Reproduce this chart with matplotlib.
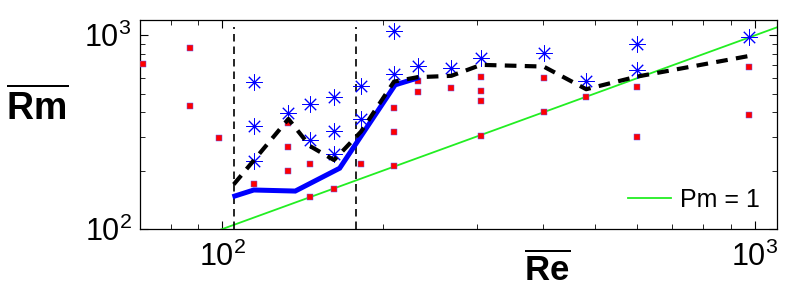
import matplotlib
matplotlib.use("Agg")
import matplotlib.pyplot as plt
import numpy as np

plt.rcParams["font.family"] = ["Liberation Sans", "DejaVu Sans"]
plt.rcParams["mathtext.fontset"] = "custom"
plt.rcParams["mathtext.rm"] = "Liberation Sans"
plt.rcParams["mathtext.bf"] = "Liberation Sans:bold"

# red squares (Re, Rm)
red_re = [70.8, 87, 87, 98.7, 114.5, 133, 133, 133, 146, 146, 162, 182,
          210, 210, 210, 232.5, 232.5, 269, 306, 306, 306, 306, 401, 401,
          482, 600, 600, 976, 976]
red_rm = [709, 865, 433, 295, 171, 264, 199, 354, 217, 146, 161, 217,
          212, 315, 421, 582, 511, 537, 612, 519, 457, 302, 601, 401,
          481, 540, 300, 685, 390]

# blue asterisks
star_re = [114.5, 114.5, 114.5, 133, 146, 146, 162, 162, 162, 182, 182,
           210, 210, 232.5, 269, 306, 401, 482, 600, 600, 976]
star_rm = [573, 342, 225, 396, 441, 288, 483, 321, 243, 548, 369,
           1055, 632, 698, 677, 767, 809, 582, 901, 663, 986]

# solid blue curve
blue_re = [105.5, 114.5, 137, 166, 211, 232]
blue_rm = [148, 159, 157, 206, 555, 601]

# dashed black curve
dash_re = [105, 133, 146, 162, 182, 210, 232.5, 269, 306, 401, 482, 600, 976]
dash_rm = [170, 370, 268, 227, 318, 577, 608, 618, 704, 690, 527, 612, 783]

# Pm = 1 line and the two vertical markers
pm_re = [70, 1100]
vlines_re = [105, 178]

fig = plt.figure(figsize=(7.89, 2.99), dpi=100)
ax = fig.add_axes([0.1774, 0.2341, 0.8074, 0.699])

ax.plot(pm_re, pm_re, color="#22ee22", lw=1.3, label="Pm = 1", zorder=2)
for xv in vlines_re:
    ax.plot([xv, xv], [100, 1107], color="black", lw=1.2,
            dashes=(4.5, 3), zorder=2)
ax.plot(red_re, red_rm, linestyle="none", marker="s", ms=4.0, mfc="red",
        mec="#6060ff", mew=0.35, zorder=3)
ax.plot(star_re, star_rm, linestyle="none", marker=(8, 2, 0), ms=11.5,
        color="blue", mew=0.7, zorder=4)
ax.plot(blue_re, blue_rm, color="blue", lw=3.6, zorder=5, solid_joinstyle="miter")
ax.plot(dash_re, dash_rm, color="black", lw=3, dashes=(2.8, 2), zorder=6)

ax.set_xscale("log")
ax.set_yscale("log")
ax.set_xlim(70, 1100)
ax.set_ylim(100, 1200)

ax.tick_params(which="both", direction="in", top=True, right=True,
               labelsize=22, pad=6)
ax.tick_params(axis="x", which="both", pad=9)
ax.tick_params(which="major", length=6, width=0.8)
ax.tick_params(which="minor", length=3.5, width=0.6)
for s in ax.spines.values():
    s.set_linewidth(0.9)

leg = ax.legend(loc="lower right", frameon=False, fontsize=18,
                handlelength=1.7, handletextpad=0.35, borderaxespad=0.3)

fig.text(0.047, 0.64, r"$\overline{\mathbf{Rm}}$", fontsize=27,
         ha="center", va="center")
fig.text(0.693, 0.097, r"$\overline{\mathbf{Re}}$", fontsize=25,
         ha="center", va="center")

fig.savefig("out.png", dpi=100)
